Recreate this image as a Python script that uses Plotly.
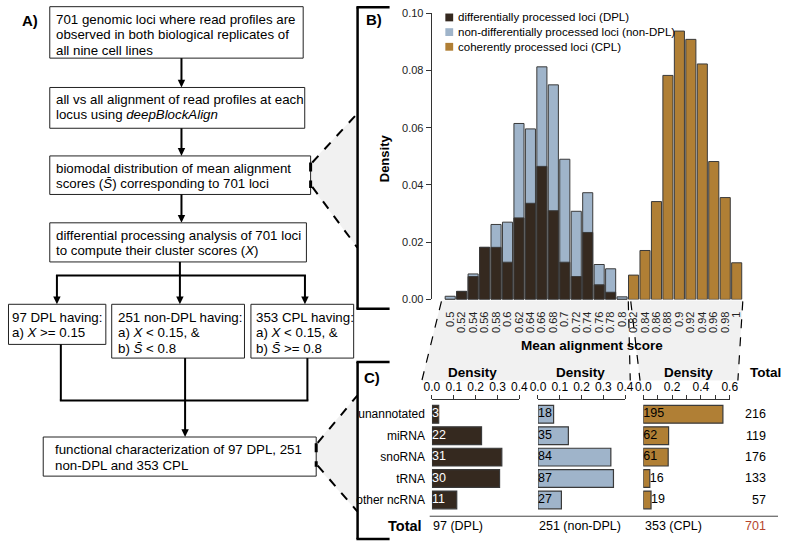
import plotly.graph_objects as go

W, H = 787, 546

# ---------------- Panel B data (density of mean alignment score) ----------------
bins_low = [0.50, 0.52, 0.54, 0.56, 0.58, 0.60, 0.62, 0.64, 0.66, 0.68, 0.70, 0.72, 0.74, 0.76, 0.78, 0.80]
bins_high = [0.82, 0.84, 0.86, 0.88, 0.90, 0.92, 0.94, 0.96, 0.98, 1.00]
tick_text = ["0.5", "0.52", "0.54", "0.56", "0.58", "0.6", "0.62", "0.64", "0.66", "0.68", "0.7",
             "0.72", "0.74", "0.76", "0.78", "0.8", "0.82", "0.84", "0.86", "0.88", "0.9", "0.92",
             "0.94", "0.96", "0.98", "1"]
nondpl_density = [0.0011, 0.0028, 0.0089, 0.0182, 0.0262, 0.0270, 0.0615, 0.0596, 0.0813, 0.0750,
                  0.0490, 0.0308, 0.0373, 0.0122, 0.0107, 0.0009]
dpl_density = [0.0, 0.0028, 0.0080, 0.0182, 0.0182, 0.0130, 0.0285, 0.0336, 0.0465, 0.0310,
               0.0130, 0.0080, 0.0234, 0.0051, 0.0025, 0.0]
cpl_density = [0.0085, 0.0171, 0.0342, 0.0783, 0.0938, 0.0909, 0.0823, 0.0482, 0.0356, 0.0128]
y_ticks_b = [0.00, 0.02, 0.04, 0.06, 0.08, 0.10]
legend_names = ["differentially processed loci (DPL)",
                "non-differentially processed loci (non-DPL)",
                "coherently processed loci (CPL)"]

# ---------------- Panel C data (functional characterization) ----------------
categories = ["unannotated", "miRNA", "snoRNA", "tRNA", "other ncRNA"]
dpl_counts = [3, 22, 31, 30, 11]
nondpl_counts = [18, 35, 84, 87, 27]
cpl_counts = [195, 62, 61, 16, 19]
row_totals = [216, 119, 176, 133, 57]
group_labels = ["97 (DPL)", "251 (non-DPL)", "353 (CPL)"]
grand_total = "701"

C_DPL = "#35291f"
C_NON = "#9fb4ca"
C_CPL = "#b07f35"
OUT = "#3a3a3a"
GRAY = "#f1f1f1"
FONT = "Liberation Sans, Arial, sans-serif"
FS = 13.3  # flowchart font size


def X(px):
    return px / W


def Y(py):
    return 1 - py / H


shapes = []
annotations = []


def rect(x0, y0, x1, y1, color="#222", width=1, fill="white"):
    shapes.append(dict(type="rect", xref="paper", yref="paper", x0=X(x0), x1=X(x1),
                       y0=Y(y1), y1=Y(y0), line=dict(color=color, width=width),
                       fillcolor=fill, layer="above"))


def line(x0, y0, x1, y1, width=2, color="black", dash=None, layer="above"):
    ln = dict(color=color, width=width)
    if dash:
        ln["dash"] = dash
    shapes.append(dict(type="line", xref="paper", yref="paper", x0=X(x0), y0=Y(y0),
                       x1=X(x1), y1=Y(y1), line=ln, layer=layer))


def poly(pts, fill=GRAY, layer="below"):
    path = "M " + " L ".join(f"{X(a):.5f},{Y(b):.5f}" for a, b in pts) + " Z"
    shapes.append(dict(type="path", xref="paper", yref="paper", path=path,
                       fillcolor=fill, line=dict(width=0), layer=layer))


def arrow(x, y0, y1):
    line(x, y0, x, y1 - 6, width=2)
    poly([(x - 3.8, y1 - 8), (x + 3.8, y1 - 8), (x, y1)], fill="black", layer="above")


def text(x, y, s, size=FS, xanchor="left", color="black", bold=False, angle=0):
    if bold:
        s = "<b>" + s + "</b>"
    annotations.append(dict(x=X(x), y=Y(y), xref="paper", yref="paper", text=s,
                            showarrow=False, xanchor=xanchor, yanchor="middle",
                            font=dict(size=size, color=color, family=FONT), textangle=angle))


SB = "<i>S\u0304</i>"

# ---------------- Panel A: flowchart ----------------
text(12, 15, "A)", size=15, bold=True)
rect(42.7, 0.7, 301.7, 53.3)
text(47.5, 14, "701 genomic loci where read profiles are")
text(47.5, 29.5, "observed in both biological replicates of")
text(47.5, 45, "all nine cell lines")
arrow(177.3, 53.3, 83.3)
rect(42.7, 83.3, 303.3, 125)
text(47.5, 95.5, "all vs all alignment of read profiles at each")
text(47.5, 111, "locus using <i>deepBlockAlign</i>")
arrow(177.3, 125, 153.3)
rect(42.7, 153.3, 309.3, 192.7)
text(47.5, 166, "biomodal distribution of mean alignment")
text(47.5, 182, "scores (" + SB + ") corresponding to 701 loci")
arrow(177.3, 192.7, 221.7)
rect(42.7, 221.7, 305, 261.7)
text(47.5, 235, "differential processing analysis of 701 loci")
text(47.5, 250.5, "to compute their cluster scores (<i>X</i>)")
line(175.7, 261.7, 175.7, 275.5)
line(49, 275.5, 304.5, 275.5)
arrow(50, 275.5, 305)
arrow(175.7, 275.5, 305)
arrow(303.5, 275.5, 305)
rect(0.5, 305, 100, 346)
text(2.5, 318.5, "97 DPL having:")
text(2.5, 334, "a) <i>X</i> >= 0.15")
rect(106, 305, 241.7, 360)
text(110, 318.5, "251 non-DPL having:")
text(110, 334, "a) <i>X</i> &lt; 0.15, &amp;")
text(110, 350, "b) " + SB + " &lt; 0.8")
rect(248.3, 305, 353.3, 360)
text(251.5, 318.5, "353 CPL having:")
text(251.5, 334, "a) <i>X</i> &lt; 0.15, &amp;")
text(251.5, 350, "b) " + SB + " >= 0.8")
line(54, 346, 54, 403.3)
line(306, 360, 306, 403.3)
line(53, 403.3, 307, 403.3)
arrow(181, 360, 440.7)
rect(36, 440.7, 315, 480.7)
text(46, 453, "functional characterization of 97 DPL, 251")
text(46, 470, "non-DPL and 353 CPL")

# zoom triangles from flowchart to panels
poly([(310, 160), (357, 110), (357, 247), (310, 185)])
line(311, 160, 357, 110, width=2, dash="dash")
line(311, 185, 357, 247, width=2, dash="dash")
line(309.3, 160, 309.3, 186, width=3, dash="dash")
poly([(315, 446.7), (357, 398.3), (357, 516.7), (315, 470)])
line(316.5, 446.7, 357, 398.3, width=2, dash="dash")
line(316.5, 470, 357, 516.7, width=2, dash="dash")
line(315, 447, 315, 471, width=3, dash="dash")

# brackets
for (t, b) in [(1.2, 309.5), (364, 545)]:
    line(357.3, t, 357.3, b, width=2.5)
    line(356.1, t, 390, t, width=2.5)
    line(356.1, b, 390, b, width=2.5)
text(364, 14, "B)", size=15, bold=True)
text(362, 380, "C)", size=15, bold=True)

# gray zoom regions under the histogram
poly([(443, 301), (634, 301), (636, 383), (423, 383)])
poly([(636, 301), (751, 301), (746, 383), (646, 383)])
line(443, 302, 423, 383, width=1.2, dash="dash", layer="below")
line(634, 302, 636, 383, width=1.2, dash="dash", layer="below")
line(636.5, 302, 646, 383, width=1.2, dash="dash", layer="below")
line(751, 302, 746, 383, width=1.2, dash="dash", layer="below")

# ---------------- Panel B: histogram ----------------
fig = go.Figure()
bw = 0.0176
fig.add_trace(go.Bar(x=bins_low, y=nondpl_density, width=bw, marker=dict(color=C_NON, line=dict(color=OUT, width=1)),
                     xaxis="x", yaxis="y", showlegend=False, hoverinfo="skip"))
fig.add_trace(go.Bar(x=bins_low, y=dpl_density, width=bw, marker=dict(color=C_DPL, line=dict(color=OUT, width=1)),
                     xaxis="x", yaxis="y", showlegend=False, hoverinfo="skip"))
fig.add_trace(go.Bar(x=bins_high, y=cpl_density, width=bw, marker=dict(color=C_CPL, line=dict(color=OUT, width=1)),
                     xaxis="x", yaxis="y", showlegend=False, hoverinfo="skip"))

# manual legend
for i, (nm, col) in enumerate(zip(legend_names, [C_DPL, C_NON, C_CPL])):
    yy = 11.7 + 15 * i
    shapes.append(dict(type="rect", xref="paper", yref="paper", x0=X(447), x1=X(455),
                       y0=Y(yy + 4), y1=Y(yy - 4), fillcolor=col, line=dict(width=0), layer="above"))
    text(458, yy, nm, size=11.5)

text(385, 156, "Density", size=13, bold=True, xanchor="center", angle=-90)
text(597, 347, "Mean alignment score", size=13.5, bold=True, xanchor="center")

# ---------------- Panel C: bar charts ----------------
px_per_unit = [223.5, 222.5, 147.3]
groups = [(dpl_counts, C_DPL, "white", "x2", "y2"),
          (nondpl_counts, C_NON, "black", "x3", "y3"),
          (cpl_counts, C_CPL, "black", "x4", "y4")]
for (counts, col, tcol, xa, ya), scale in zip(groups, px_per_unit):
    tot = sum(counts)
    dens = [c / tot for c in counts]
    fig.add_trace(go.Bar(x=dens, y=categories, orientation="h", width=0.83,
                         marker=dict(color=col, line=dict(color=OUT, width=1.2)),
                         xaxis=xa, yaxis=ya, showlegend=False, hoverinfo="skip"))
    fits = [d * scale >= 5 if tcol == "white" else d * scale >= 12 for d in dens]
    tx = [0 if f else d for f, d in zip(fits, dens)]
    tcols = [tcol if f else "black" for f in fits]
    fig.add_trace(go.Scatter(x=tx, y=categories, mode="text", text=[str(c) for c in counts],
                             textposition="middle right", textfont=dict(color=tcols, size=12.5, family=FONT),
                             xaxis=xa, yaxis=ya, showlegend=False, hoverinfo="skip", cliponaxis=False))

for cx in [475, 585, 696]:
    text(cx, 375, "Density", size=13.5, bold=True, xanchor="center")
text(756, 375, "Total", size=13.5, bold=True)
for i, t in enumerate(row_totals):
    yy = 417.4 + 21.9 * i
    text(777, yy, str(t), size=12.5, xanchor="right")
line(431, 521.7, 787, 521.7, width=1, color="#444")
text(425, 532, "Total", size=14.5, bold=True, xanchor="right")
for gx, gl in zip([432, 541, 649], group_labels):
    text(gx, 532, gl, size=12.5)
text(777, 532, grand_total, size=12.5, xanchor="right", color="#b5452d")

ax_common = dict(showgrid=False, zeroline=False)
ydom = [Y(516), Y(403.3)]
cat_axis = dict(type="category", categoryorder="array", categoryarray=categories,
                range=[4.5, -0.646], ticks="", showline=False, domain=ydom, **ax_common)

fig.update_layout(
    width=W, height=H, autosize=False,
    margin=dict(l=0, r=0, t=0, b=0),
    paper_bgcolor="white", plot_bgcolor="rgba(0,0,0,0)",
    barmode="overlay",
    font=dict(family=FONT, color="black"),
    xaxis=dict(domain=[X(433), X(760)], range=[0.4676, 1.026], anchor="y",
               tickvals=bins_low + bins_high, ticktext=tick_text, tickangle=-90, ticks="",
               showline=False, tickfont=dict(size=11, color="#222"), ticklabelstandoff=9, **ax_common),
    yaxis=dict(domain=[Y(300), Y(7.5)], range=[0, 0.1], anchor="x", tickvals=y_ticks_b,
               tickformat=".2f", ticks="outside", ticklen=5, tickcolor="#333", showline=True,
               linecolor="#333", linewidth=1, tickfont=dict(size=11, color="#222"), **ax_common),
    xaxis2=dict(domain=[X(433.3), X(522.7)], range=[0, 0.4], anchor="y2", side="top",
                tickvals=[0, 0.1, 0.2, 0.3, 0.4], tickformat=".1f", ticks="outside", ticklen=4,
                tickcolor="#333", showline=True, linecolor="#333", tickfont=dict(size=12), **ax_common),
    xaxis3=dict(domain=[X(541.7), X(630.7)], range=[0, 0.4], anchor="y3", side="top",
                tickvals=[0, 0.1, 0.2, 0.3, 0.4], tickformat=".1f", ticks="outside", ticklen=4,
                tickcolor="#333", showline=True, linecolor="#333", tickfont=dict(size=12), **ax_common),
    xaxis4=dict(domain=[X(649.3), X(737.7)], range=[0, 0.6], anchor="y4", side="top",
                tickvals=[0, 0.1, 0.2, 0.3, 0.4, 0.5, 0.6],
                ticktext=["0.0", "", "0.2", "", "0.4", "", "0.6"], ticks="outside", ticklen=4,
                tickcolor="#333", showline=True, linecolor="#333", tickfont=dict(size=12), **ax_common),
    yaxis2=dict(anchor="x2", showticklabels=True, tickfont=dict(size=12), ticklabelstandoff=6, **cat_axis),
    yaxis3=dict(anchor="x3", showticklabels=False, **cat_axis),
    yaxis4=dict(anchor="x4", showticklabels=False, **cat_axis),
    shapes=shapes,
    annotations=annotations,
)

fig.write_html("out.html", config={"displayModeBar": False},
               post_script="document.body.style.margin='0px';")
